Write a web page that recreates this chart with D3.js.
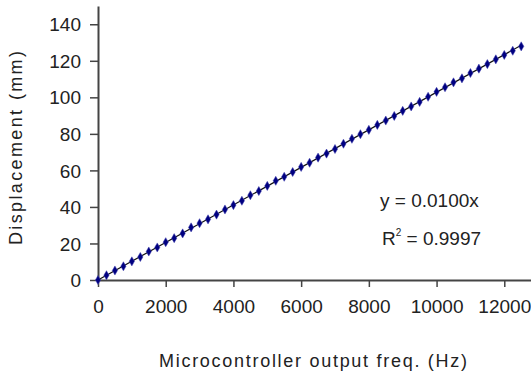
<!DOCTYPE html>
<html>
<head>
<meta charset="utf-8">
<script src="https://cdn.jsdelivr.net/npm/d3@7"></script>
<style>
  body { margin: 0; background: #fff; }
  svg { display: block; font-family: "Liberation Sans", Arial, sans-serif; }
</style>
</head>
<body>
<svg id="chart" width="531" height="381"></svg>
<script>
// measured frequency (Hz) and displacement (mm)
var freqs = [0, 250, 500, 750, 1000, 1250, 1500, 1750, 2000, 2250,
  2500, 2750, 3000, 3250, 3500, 3750, 4000, 4250, 4500, 4750,
  5000, 5250, 5500, 5750, 6000, 6250, 6500, 6750, 7000, 7250,
  7500, 7750, 8000, 8250, 8500, 8750, 9000, 9250, 9500, 9750,
  10000, 10250, 10500, 10750, 11000, 11250, 11500, 11750, 12000, 12250, 12500];
var displacement = [0, 2.6, 5.2, 7.5, 10.2, 12.6, 15.6, 17.8, 20.7, 22.9,
  25.5, 28.8, 31.1, 33.2, 35.8, 38.6, 41.0, 43.4, 46.4, 48.7,
  51.5, 54.3, 56.5, 59.1, 61.9, 64.2, 67.0, 69.2, 71.7, 74.6,
  77.3, 79.8, 82.2, 84.9, 87.3, 89.8, 92.6, 95.0, 97.5, 100.3,
  103.0, 105.5, 108.2, 110.4, 113.3, 115.7, 118.2, 120.8, 123.2, 125.5, 127.9];
var xTicks = [0, 2000, 4000, 6000, 8000, 10000, 12000];
var yTicks = [0, 20, 40, 60, 80, 100, 120, 140];

var xTitle = "Microcontroller output freq. (Hz)";
var yTitle = "Displacement (mm)";
var eqText = "y = 0.0100x";
var r2Value = "0.9997";

var data = freqs.map(function(f, i) { return {f: f, d: displacement[i]}; });

var svg = d3.select("#chart");

var x = d3.scaleLinear().domain([0, 14000]).range([98, 572]);
var y = d3.scaleLinear().domain([0, 150]).range([280, 6]);

// trendline through origin, least squares
var sxy = d3.sum(data, function(p) { return p.f * p.d; });
var sxx = d3.sum(data, function(p) { return p.f * p.f; });
var slope = sxy / sxx;
var fMax = d3.max(freqs);

// axes
var xAxis = svg.append("g")
    .attr("transform", "translate(0,280)")
    .call(d3.axisBottom(x).tickValues(xTicks).tickSize(7).tickSizeOuter(0).tickFormat(d3.format("d")));
var yAxis = svg.append("g")
    .attr("transform", "translate(98,0)")
    .call(d3.axisLeft(y).tickValues(yTicks).tickSize(8).tickSizeOuter(0));

[xAxis, yAxis].forEach(function(a) {
  a.select(".domain").attr("stroke", "#444").attr("stroke-width", 2);
  a.selectAll(".tick line").attr("stroke", "#444").attr("stroke-width", 1.5);
  a.selectAll(".tick text").attr("fill", "#222").style("font-size", "19px");
});
xAxis.selectAll(".tick text").attr("y", 20);
yAxis.selectAll(".tick text").attr("x", -17).attr("dy", "0.35em");

// trendline
svg.append("line")
    .attr("x1", x(0)).attr("y1", y(0))
    .attr("x2", x(fMax)).attr("y2", y(slope * fMax))
    .attr("stroke", "#111")
    .attr("stroke-width", 1.2);

// data points
svg.selectAll("path.pt")
    .data(data)
    .enter().append("path")
    .attr("class", "pt")
    .attr("d", d3.symbol().type(d3.symbolDiamond).size(24))
    .attr("transform", function(p) { return "translate(" + x(p.f) + "," + y(p.d) + ")"; })
    .attr("fill", "#000080")
    .attr("stroke", "#4040b0")
    .attr("stroke-width", 0.5);

// axis titles
svg.append("text")
    .attr("x", 313).attr("y", 367)
    .attr("text-anchor", "middle")
    .attr("fill", "#222")
    .style("font-size", "18px")
    .attr("textLength", 308)
    .text(xTitle);

svg.append("text")
    .attr("transform", "translate(22,148) rotate(-90)")
    .attr("text-anchor", "middle")
    .attr("fill", "#222")
    .style("font-size", "18px")
    .attr("textLength", 194)
    .text(yTitle);

// regression annotation
svg.append("text")
    .attr("x", 380).attr("y", 207)
    .attr("fill", "#222")
    .style("font-size", "19px")
    .text(eqText);

var r2 = svg.append("text")
    .attr("x", 382).attr("y", 245)
    .attr("fill", "#222")
    .style("font-size", "19px");
r2.append("tspan").text("R");
r2.append("tspan").attr("dy", -9).style("font-size", "10px").text("2");
r2.append("tspan").attr("dy", 9).text(" = " + r2Value);
</script>
</body>
</html>
